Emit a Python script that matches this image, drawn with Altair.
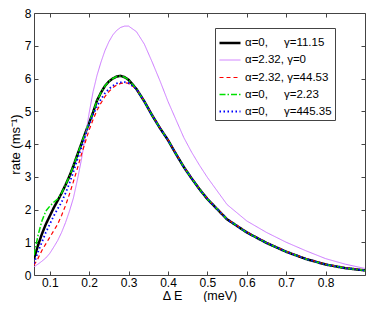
import altair as alt
import pandas as pd

NB = "\u00a0"
labels = [
    "α=0," + NB * 5 + "γ=11.15",
    "α=2.32, γ=0",
    "α=2.32, γ=44.53",
    "α=0," + NB * 5 + "γ=2.23",
    "α=0," + NB * 5 + "γ=445.35",
]
colors = ["#000000", "#cc77ff", "#ff0000", "#00e000", "#0000ff"]
dashes = [[1, 0], [1, 0], [4, 3], [6, 2, 1.5, 2], [1.5, 2.5]]
widths = [2.5, 1, 1.2, 1.5, 1.8]

X = [0.06, 0.07, 0.08, 0.09, 0.10, 0.11, 0.12, 0.13, 0.14, 0.15, 0.16, 0.17, 0.18, 0.19,
     0.20, 0.21, 0.22, 0.23, 0.24, 0.25, 0.26, 0.27, 0.28, 0.29, 0.30, 0.32, 0.34, 0.36,
     0.38, 0.40, 0.42, 0.44, 0.46, 0.48, 0.50, 0.55, 0.60, 0.65, 0.70, 0.75, 0.80, 0.85, 0.90]

black = [0.5, 0.9, 1.25, 1.55, 1.8, 2.05, 2.27, 2.5, 2.75, 3.02, 3.33, 3.67, 4.0, 4.33,
         4.65, 4.97, 5.33, 5.57, 5.77, 5.91, 6.0, 6.06, 6.08, 6.04, 5.96, 5.68, 5.3, 4.87,
         4.48, 4.12, 3.7, 3.3, 2.95, 2.62, 2.32, 1.7, 1.3, 0.98, 0.71, 0.49, 0.32, 0.21, 0.14]
magenta = [0.25, 0.33, 0.42, 0.52, 0.66, 0.85, 1.05, 1.3, 1.6, 1.95, 2.35, 2.9, 3.5, 4.2,
           4.95, 5.6, 6.1, 6.5, 6.85, 7.12, 7.33, 7.47, 7.56, 7.6, 7.6, 7.43, 7.05, 6.5,
           5.92, 5.3, 4.75, 4.2, 3.75, 3.35, 2.98, 2.15, 1.65, 1.3, 1.0, 0.74, 0.5, 0.33, 0.2]
red = [0.3, 0.5, 0.75, 0.95, 1.15, 1.35, 1.55, 1.82, 2.12, 2.47, 2.85, 3.25, 3.67, 4.05,
       4.43, 4.75, 5.03, 5.25, 5.45, 5.6, 5.72, 5.8, 5.85, 5.87, 5.85, 5.68, 5.31, 4.88,
       4.49, 4.13, 3.71, 3.31, 2.96, 2.63, 2.33, 1.71, 1.31, 0.99, 0.72, 0.5, 0.33, 0.22, 0.15]
green = [0.6, 1.2, 1.65, 1.95, 2.1, 2.22, 2.32, 2.5, 2.75, 3.02, 3.33, 3.67, 4.0, 4.33,
         4.65, 4.97, 5.33, 5.57, 5.77, 5.91, 6.0, 6.06, 6.08, 6.04, 5.96, 5.68, 5.3, 4.87,
         4.48, 4.12, 3.7, 3.3, 2.95, 2.62, 2.32, 1.7, 1.3, 0.98, 0.71, 0.49, 0.32, 0.21, 0.14]
blue = [0.35, 0.7, 1.0, 1.3, 1.55, 1.8, 2.02, 2.22, 2.5, 2.8, 3.15, 3.52, 3.88, 4.25,
        4.6, 4.9, 5.15, 5.37, 5.55, 5.68, 5.78, 5.85, 5.88, 5.89, 5.86, 5.68, 5.3, 4.87,
        4.48, 4.12, 3.7, 3.3, 2.95, 2.62, 2.32, 1.7, 1.3, 0.98, 0.71, 0.49, 0.32, 0.21, 0.14]

x_ticks = [0.1, 0.2, 0.3, 0.4, 0.5, 0.6, 0.7, 0.8]
y_ticks = [0, 1, 2, 3, 4, 5, 6, 7, 8]

series_vals = [black, magenta, red, green, blue]
rows = []
for lab, ys in zip(labels, series_vals):
    for xv, yv in zip(X, ys):
        rows.append({"series": lab, "x": xv, "y": yv})
df = pd.DataFrame(rows)

W, H = 331, 262
FONT = "Liberation Sans"
xs = alt.Scale(domain=[0.06, 0.9], nice=False, zero=False)
ys_ = alt.Scale(domain=[0, 8], nice=False, zero=True)

main = alt.Chart(df).mark_line(clip=True).encode(
    x=alt.X("x:Q", scale=xs, axis=alt.Axis(
        orient="bottom", values=x_ticks, format=".1f", ticks=False, tickSize=0,
        domain=False, grid=False, labelPadding=2, labelFontSize=12, labelFont=FONT,
        labelColor="#000", title="Δ E" + NB * 6 + "(meV)", titleFont=FONT,
        titleFontSize=12.5, titleFontWeight="normal", titlePadding=1, titleColor="#000",
        labelOverlap=False)),
    y=alt.Y("y:Q", scale=ys_, axis=alt.Axis(
        orient="left", values=y_ticks, format="d", ticks=False, tickSize=0,
        domain=False, grid=False, labelPadding=3, labelFontSize=12, labelFont=FONT,
        labelColor="#000", title="rate (ms⁻¹)", titleFont=FONT, titleFontSize=13,
        titleFontWeight="normal", titlePadding=2, titleColor="#000")),
    color=alt.Color("series:N", scale=alt.Scale(domain=labels, range=colors),
                    legend=alt.Legend(title=None)),
    strokeDash=alt.StrokeDash("series:N", scale=alt.Scale(domain=labels, range=dashes),
                              legend=alt.Legend(title=None)),
    strokeWidth=alt.StrokeWidth("series:N",
                                scale=alt.Scale(type="ordinal", domain=labels, range=widths),
                                legend=alt.Legend(title=None)),
)

tick_style = dict(labels=False, domain=False, grid=False, ticks=True, tickSize=4,
                  tickColor="#444", title=None)

ticks_a = alt.Chart(df).mark_point(opacity=0).encode(
    x=alt.X("x:Q", scale=xs, axis=alt.Axis(orient="top", offset=-H, values=x_ticks, **tick_style)),
    y=alt.Y("y:Q", scale=ys_, axis=alt.Axis(orient="right", offset=-W, values=y_ticks, **tick_style)),
)
ticks_b = alt.Chart(df).mark_point(opacity=0).encode(
    x=alt.X("x:Q", scale=xs, axis=alt.Axis(orient="bottom", offset=-H, values=x_ticks, **tick_style)),
    y=alt.Y("y:Q", scale=ys_, axis=alt.Axis(orient="left", offset=-W, values=y_ticks, **tick_style)),
)

chart = alt.layer(main, ticks_a, ticks_b).resolve_axis(
    x="independent", y="independent"
).properties(
    width=W, height=H,
    autosize=alt.AutoSizeParams(type="none"),
    padding={"left": 26, "top": 5, "right": 1, "bottom": 27},
).configure_view(
    stroke="#444", strokeWidth=1
).configure_legend(
    orient="none", legendX=181, legendY=15, fillColor="white", strokeColor="#444",
    padding=3, symbolType="stroke", symbolSize=441, labelFontSize=11.5, labelFont=FONT,
    labelColor="#000", labelLimit=400, labelOffset=3, rowPadding=-3.5, cornerRadius=0,
)

chart.save("out.html", embed_options={"renderer": "svg", "actions": False})
